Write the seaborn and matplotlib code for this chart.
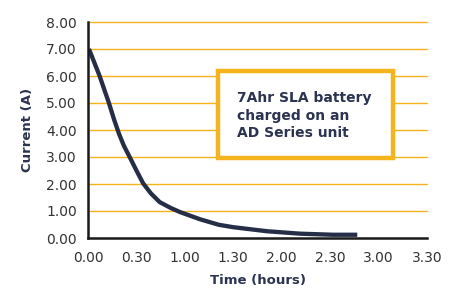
import matplotlib
matplotlib.use("Agg")
import matplotlib.pyplot as plt
import seaborn as sns
import pandas as pd
from matplotlib.patches import Rectangle

# Data (time in decimal hours, current in A)
time_h = [0.01, 0.12, 0.216, 0.27, 0.32, 0.37, 0.43, 0.50, 0.57, 0.65, 0.74, 0.85, 0.95, 1.16, 1.35, 1.50, 1.85, 2.19, 2.53, 2.78]
current_a = [7.0, 6.0, 5.0, 4.38, 3.86, 3.42, 3.0, 2.5, 2.02, 1.65, 1.33, 1.12, 0.96, 0.69, 0.49, 0.40, 0.25, 0.16, 0.12, 0.12]
x_ticks = [0.0, 0.5, 1.0, 1.5, 2.0, 2.5, 3.0, 3.5]
x_tick_labels = ["0.00", "0.30", "1.00", "1.30", "2.00", "2.30", "3.00", "3.30"]
y_ticks = [0, 1, 2, 3, 4, 5, 6, 7, 8]
y_tick_labels = ["0.00", "1.00", "2.00", "3.00", "4.00", "5.00", "6.00", "7.00", "8.00"]
annotation = "7Ahr SLA battery\ncharged on an\nAD Series unit"

sns.set_style("white")
plt.rcParams["font.family"] = ["DejaVu Sans"]

NAVY = "#262E47"
GOLD = "#F5B31E"
TEXT = "#333333"
LABEL = "#2B3350"

fig = plt.figure(figsize=(4.55, 2.88), dpi=100)
ax = fig.add_axes([88/455, 1-238/288, (427-88)/455, (238-22)/288])

df = pd.DataFrame({"time": time_h, "current": current_a})
sns.lineplot(data=df, x="time", y="current", ax=ax, color=NAVY, linewidth=3.1,
             sort=False, zorder=5, solid_capstyle="butt", solid_joinstyle="round")

ax.set_xlim(0, 3.5)
ax.set_ylim(0, 8)
ax.set_xticks(x_ticks)
ax.set_xticklabels(x_tick_labels)
ax.set_yticks(y_ticks)
ax.set_yticklabels(y_tick_labels)

for y in y_ticks[1:]:
    ax.axhline(y, color=GOLD, linewidth=1.0, zorder=1, clip_on=False)

for s in ["top", "right"]:
    ax.spines[s].set_visible(False)
for s in ["left", "bottom"]:
    ax.spines[s].set_color("#1a1a1a")
    ax.spines[s].set_linewidth(1.8)
    ax.spines[s].set_zorder(6)

ax.tick_params(axis="x", direction="out", length=4, width=1.5, color="#1a1a1a",
               labelsize=10, labelcolor=TEXT, pad=5)
ax.tick_params(axis="y", length=0, labelsize=10, labelcolor=TEXT, pad=8)

ax.set_xlabel("Time (hours)", fontsize=9.5, fontweight="bold", color=LABEL, labelpad=7)
ax.set_ylabel("Current (A)", fontsize=9.5, fontweight="bold", color=LABEL, labelpad=9)

# Annotation box
box = Rectangle((218/455, 1-158/288), (393-218)/455, (158-71)/288, transform=fig.transFigure,
                facecolor="white", edgecolor=GOLD, linewidth=3.2, zorder=10)
fig.patches.append(box)
fig.text(237/455, 1-115.5/288, annotation, fontsize=10, fontweight="bold", color=LABEL,
         ha="left", va="center", linespacing=1.3, zorder=11)

fig.savefig("out.png", dpi=100, facecolor="white")
